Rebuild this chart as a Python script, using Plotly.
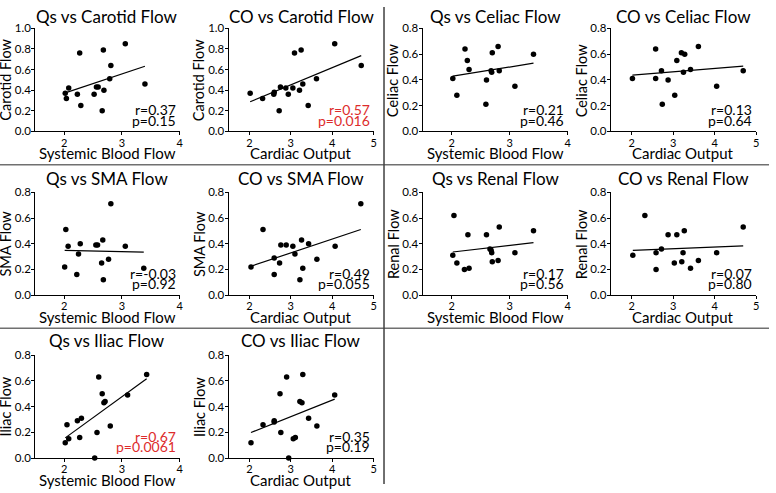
import numpy as np
import plotly.graph_objects as go

W, H = 776, 493

# ---------------- data ----------------
qs_carotid_x = [2.02, 2.04, 2.08, 2.23, 2.27, 2.29, 2.52, 2.56, 2.59, 2.66, 2.68, 2.69, 2.79, 2.81, 3.06, 3.40]
qs_carotid_y = [0.37, 0.32, 0.42, 0.36, 0.76, 0.25, 0.36, 0.43, 0.43, 0.20, 0.79, 0.40, 0.51, 0.64, 0.85, 0.46]

co_carotid_x = [2.02, 2.32, 2.59, 2.60, 2.72, 2.75, 2.88, 2.94, 3.05, 3.09, 3.21, 3.25, 3.29, 3.42, 3.62, 4.06, 4.70]
co_carotid_y = [0.37, 0.32, 0.36, 0.38, 0.20, 0.43, 0.42, 0.36, 0.42, 0.76, 0.40, 0.79, 0.46, 0.25, 0.51, 0.85, 0.64]

qs_celiac_x = [2.02, 2.09, 2.23, 2.27, 2.30, 2.59, 2.60, 2.68, 2.69, 2.70, 2.80, 2.82, 3.09, 3.41]
qs_celiac_y = [0.41, 0.28, 0.64, 0.55, 0.48, 0.21, 0.40, 0.47, 0.46, 0.61, 0.66, 0.47, 0.35, 0.60]

co_celiac_x = [2.02, 2.58, 2.58, 2.72, 2.74, 2.88, 3.04, 3.09, 3.20, 3.25, 3.28, 3.42, 3.61, 4.05, 4.69]
co_celiac_y = [0.41, 0.64, 0.41, 0.47, 0.21, 0.40, 0.28, 0.55, 0.61, 0.46, 0.60, 0.48, 0.66, 0.35, 0.47]

qs_sma_x = [2.01, 2.03, 2.07, 2.22, 2.25, 2.28, 2.55, 2.58, 2.65, 2.67, 2.68, 2.77, 2.81, 3.06, 3.38]
qs_sma_y = [0.22, 0.51, 0.38, 0.16, 0.32, 0.40, 0.39, 0.39, 0.25, 0.43, 0.12, 0.28, 0.71, 0.38, 0.21]

co_sma_x = [2.04, 2.33, 2.60, 2.60, 2.73, 2.76, 2.89, 3.05, 3.10, 3.22, 3.26, 3.29, 3.43, 3.63, 4.07, 4.69]
co_sma_y = [0.22, 0.51, 0.16, 0.29, 0.25, 0.39, 0.39, 0.38, 0.32, 0.12, 0.43, 0.21, 0.40, 0.28, 0.38, 0.71]

qs_renal_x = [2.02, 2.04, 2.09, 2.22, 2.28, 2.30, 2.60, 2.66, 2.68, 2.69, 2.70, 2.80, 2.82, 3.09, 3.41]
qs_renal_y = [0.31, 0.62, 0.25, 0.20, 0.47, 0.21, 0.47, 0.36, 0.35, 0.33, 0.26, 0.27, 0.53, 0.33, 0.50]

co_renal_x = [2.03, 2.32, 2.59, 2.59, 2.72, 2.88, 3.03, 3.09, 3.21, 3.24, 3.27, 3.42, 3.61, 4.05, 4.69]
co_renal_y = [0.31, 0.62, 0.33, 0.20, 0.36, 0.47, 0.25, 0.47, 0.26, 0.33, 0.50, 0.21, 0.27, 0.33, 0.53]

qs_iliac_x = [2.02, 2.05, 2.08, 2.23, 2.27, 2.30, 2.53, 2.57, 2.60, 2.66, 2.69, 2.71, 2.80, 3.10, 3.43]
qs_iliac_y = [0.12, 0.26, 0.15, 0.29, 0.16, 0.31, 0.00, 0.20, 0.63, 0.50, 0.43, 0.44, 0.25, 0.49, 0.65]

co_iliac_x = [2.04, 2.33, 2.60, 2.60, 2.74, 2.76, 2.90, 2.95, 3.06, 3.11, 3.22, 3.27, 3.29, 3.43, 3.63, 4.06]
co_iliac_y = [0.12, 0.26, 0.29, 0.28, 0.50, 0.20, 0.63, 0.00, 0.15, 0.16, 0.44, 0.43, 0.65, 0.31, 0.25, 0.49]

titles = ["Qs vs Carotid Flow", "CO vs Carotid Flow", "Qs vs Celiac Flow", "CO vs Celiac Flow",
          "Qs vs SMA Flow", "CO vs SMA Flow", "Qs vs Renal Flow", "CO vs Renal Flow",
          "Qs vs Iliac Flow", "CO vs Iliac Flow"]
y_titles = ["Carotid Flow", "Carotid Flow", "Celiac Flow", "Celiac Flow",
            "SMA Flow", "SMA Flow", "Renal Flow", "Renal Flow", "Iliac Flow", "Iliac Flow"]
x_titles = ["Systemic Blood Flow", "Cardiac Output"] * 5
r_labels = ["r=0.37", "r=0.57", "r=0.21", "r=0.13", "r=-0.03", "r=0.49", "r=0.17", "r=0.07", "r=0.67", "r=0.35"]
p_labels = ["p=0.15", "p=0.016", "p=0.46", "p=0.64", "p=0.92", "p=0.055", "p=0.56", "p=0.80", "p=0.0061", "p=0.19"]
significant = [False, True, False, False, False, False, False, False, True, False]
y_max = [1.0, 1.0, 0.8, 0.8, 0.8, 0.8, 0.8, 0.8, 0.8, 0.8]
x_max = [4, 5] * 5
x_ticks_qs = [2, 3, 4]
x_ticks_co = [2, 3, 4, 5]

xs = [qs_carotid_x, co_carotid_x, qs_celiac_x, co_celiac_x, qs_sma_x, co_sma_x,
      qs_renal_x, co_renal_x, qs_iliac_x, co_iliac_x]
ys = [qs_carotid_y, co_carotid_y, qs_celiac_y, co_celiac_y, qs_sma_y, co_sma_y,
      qs_renal_y, co_renal_y, qs_iliac_y, co_iliac_y]

# ---------------- layout (pixels) ----------------
col_px = [(35.4, 180.5), (229.8, 375.6), (424.8, 570.7), (614.0, 760.0)]
row_px = [(22.0, 127.7), (190.3, 296.0), (357.7, 463.3)]
title_y = [9.5, 176.0, 342.5]
xtitle_y = [150.0, 318.0, 485.5]

FONT = "Lato"
RED = "#dd2c2c"

fig = go.Figure()
annotations = []
layout_axes = {}

for i in range(10):
    r, c = divmod(i, 4) if i < 8 else (2, i - 8)
    x0, x1 = col_px[c]
    yt, yb = row_px[r]
    k = "" if i == 0 else str(i + 1)
    xa, ya = "x" + k, "y" + k

    x = np.array(xs[i]); y = np.array(ys[i])
    fig.add_trace(go.Scatter(x=x, y=y, mode="markers", xaxis=xa, yaxis=ya,
                             marker=dict(color="black", size=5.5), cliponaxis=False,
                             showlegend=False, hoverinfo="x+y"))
    slope, icpt = np.polyfit(x, y, 1)
    lx = np.array([x.min(), x.max()])
    fig.add_trace(go.Scatter(x=lx, y=slope * lx + icpt, mode="lines", xaxis=xa, yaxis=ya,
                             line=dict(color="black", width=1.2), showlegend=False,
                             hoverinfo="skip"))

    ticks = x_ticks_qs if x_max[i] == 4 else x_ticks_co
    layout_axes["xaxis" + k] = dict(
        domain=[x0 / W, x1 / W], range=[1.5, x_max[i]], anchor=ya,
        tickvals=ticks, ticks="outside", ticklen=3, tickwidth=1.2, tickcolor="black",
        ticklabelstandoff=-2,
        showline=True, linecolor="black", linewidth=1.2, showgrid=False, zeroline=False,
        tickfont=dict(family=FONT, size=11, color="black"), fixedrange=True)
    yt_vals = list(np.round(np.arange(0, y_max[i] + 1e-9, 0.2), 1))
    layout_axes["yaxis" + k] = dict(
        domain=[1 - yb / H, 1 - yt / H], range=[0, y_max[i]], anchor=xa,
        tickvals=yt_vals, tickformat=".1f", ticks="outside", ticklen=3, tickwidth=1.2,
        ticklabelstandoff=-2,
        tickcolor="black", showline=True, linecolor="black", linewidth=1.2,
        showgrid=False, zeroline=False,
        tickfont=dict(family=FONT, size=11.5, color="black"), fixedrange=True)

    cx = (x0 + x1) / 2
    annotations.append(dict(text=titles[i], x=cx / W, y=1 - title_y[r] / H, xref="paper", yref="paper",
                            xanchor="center", yanchor="middle", showarrow=False,
                            font=dict(family=FONT, size=17, color="black")))
    annotations.append(dict(text=x_titles[i], x=cx / W, y=1 - xtitle_y[r] / H, xref="paper", yref="paper",
                            xanchor="center", yanchor="middle", showarrow=False,
                            font=dict(family=FONT, size=15, color="black")))
    annotations.append(dict(text=y_titles[i], x=(x0 - 29.5) / W, y=1 - (yt + yb) / 2 / H,
                            xref="paper", yref="paper", xanchor="center", yanchor="middle",
                            textangle=-90, showarrow=False,
                            font=dict(family=FONT, size=14.5, color="black")))
    col = RED if significant[i] else "black"
    annotations.append(dict(text=r_labels[i], x=(x1 - 2) / W, y=1 - (yb - 22.5) / H, xref="paper", yref="paper",
                            xanchor="right", yanchor="middle", showarrow=False,
                            font=dict(family=FONT, size=14, color=col)))
    annotations.append(dict(text=p_labels[i], x=(x1 - 2) / W, y=1 - (yb - 11.5) / H, xref="paper", yref="paper",
                            xanchor="right", yanchor="middle", showarrow=False,
                            font=dict(family=FONT, size=14, color=col)))

shapes = [
    dict(type="line", xref="paper", yref="paper", x0=0, x1=773 / W, y0=1 - 162 / H, y1=1 - 162 / H,
         line=dict(color="#707070", width=1.5)),
    dict(type="line", xref="paper", yref="paper", x0=0, x1=773 / W, y0=1 - 330 / H, y1=1 - 330 / H,
         line=dict(color="#707070", width=1.5)),
    dict(type="line", xref="paper", yref="paper", x0=386 / W, x1=386 / W, y0=1 - 490 / H, y1=1,
         line=dict(color="#404040", width=1.5)),
]

fig.update_layout(width=W, height=H, margin=dict(l=0, r=0, t=0, b=0),
                  paper_bgcolor="white", plot_bgcolor="white",
                  annotations=annotations, shapes=shapes, **layout_axes)

fig.write_html("out.html")
